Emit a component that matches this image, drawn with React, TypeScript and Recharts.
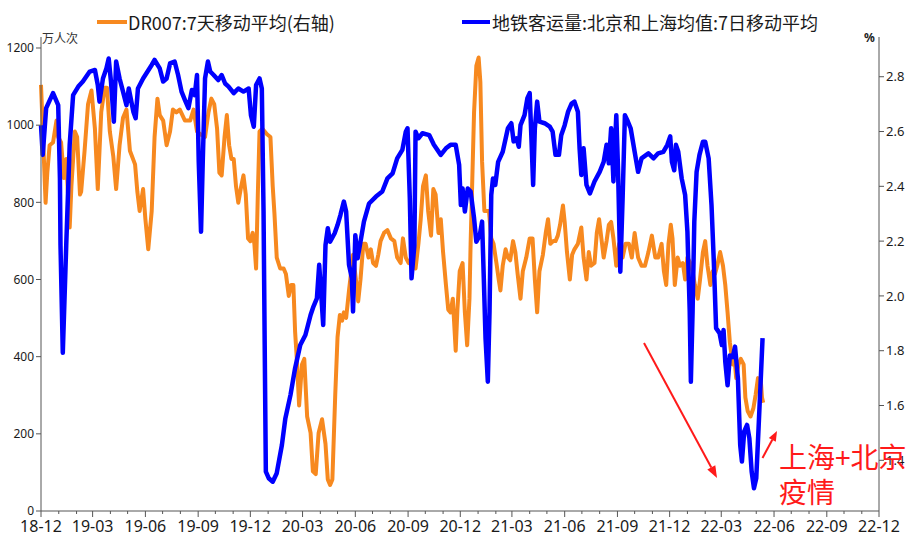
import React from 'react';
import { LineChart, Line, XAxis, YAxis } from 'recharts';

// days since 2018-12-01, value (万人次)
const subwaySeries: [number, number][] = [
[0,1000],[3,923],[9,1044],[21,1083],[30,1052],[33,862],[34,689],[38,410],[44,689],[50,949],[56,1078],[65,1100],[73,1113],[85,1139],[94,1143],[99,1104],[102,1061],[108,1121],[114,1147],[118,1173],[122,1113],[127,1009],[131,1165],[137,1121],[143,1087],[149,1052],[153,1095],[161,1035],[165,1018],[169,1095],[178,1121],[193,1156],[198,1169],[207,1147],[213,1113],[219,1121],[225,1160],[233,1165],[239,1130],[245,1087],[251,1065],[257,1044],[263,1091],[268,1078],[272,1130],[275,905],[279,724],[282,905],[286,1121],[291,1165],[295,1139],[301,1130],[309,1117],[315,1130],[321,1108],[327,1100],[336,1083],[344,1095],[353,1087],[362,1095],[366,1026],[371,996],[375,1104],[381,1121],[385,1095],[388,776],[390,430],[392,102],[397,85],[404,76],[411,98],[420,171],[426,240],[435,301],[443,370],[452,430],[461,456],[470,508],[475,530],[481,551],[485,638],[489,551],[492,482],[496,689],[500,733],[504,698],[512,720],[517,741],[522,767],[528,802],[532,776],[537,638],[542,603],[544,517],[548,715],[552,655],[556,689],[563,750],[572,797],[584,815],[595,828],[604,862],[613,875],[621,914],[630,936],[636,983],[639,992],[643,810],[646,603],[651,689],[653,983],[658,966],[665,979],[677,974],[685,949],[697,923],[706,940],[714,949],[723,949],[729,897],[732,793],[735,836],[739,776],[744,836],[749,828],[755,759],[759,698],[765,715],[769,750],[772,603],[775,448],[779,335],[782,517],[785,819],[788,862],[792,845],[797,905],[805,931],[814,992],[820,1005],[824,958],[829,966],[833,944],[836,1000],[843,1026],[848,1070],[852,1083],[855,966],[858,845],[861,992],[865,1061],[869,1009],[878,1005],[887,996],[892,983],[897,923],[903,923],[907,974],[913,1000],[919,1035],[925,1056],[930,1061],[936,1035],[939,940],[942,871],[946,940],[951,845],[957,823],[965,854],[974,879],[981,905],[986,949],[990,901],[994,992],[998,854],[1003,1026],[1006,888],[1010,620],[1014,810],[1018,1026],[1023,1010],[1028,992],[1035,931],[1041,879],[1047,914],[1059,927],[1068,914],[1076,927],[1085,931],[1092,949],[1097,971],[1100,905],[1104,883],[1107,949],[1111,931],[1117,862],[1123,819],[1127,724],[1131,517],[1133,335],[1136,517],[1139,750],[1143,879],[1148,923],[1154,957],[1158,957],[1164,914],[1169,793],[1173,647],[1177,474],[1183,461],[1187,430],[1190,469],[1193,387],[1197,326],[1201,403],[1206,399],[1210,426],[1215,344],[1219,171],[1222,128],[1226,206],[1231,223],[1235,188],[1239,102],[1243,59],[1247,85],[1251,214],[1255,347],[1258,448]
];

// days since 2018-12-01, value (%)
const dr007Series: [number, number][] = [
[0,2.77],[3,2.61],[8,2.34],[11,2.45],[15,2.55],[21,2.56],[27,2.64],[30,2.58],[35,2.56],[40,2.43],[44,2.50],[50,2.25],[53,2.40],[59,2.60],[63,2.58],[68,2.37],[70,2.38],[76,2.53],[82,2.70],[88,2.75],[94,2.61],[99,2.39],[105,2.67],[111,2.76],[115,2.76],[120,2.60],[126,2.51],[131,2.39],[137,2.55],[143,2.65],[149,2.68],[155,2.53],[164,2.48],[168,2.38],[172,2.31],[178,2.39],[182,2.28],[187,2.17],[193,2.31],[198,2.58],[203,2.72],[207,2.66],[213,2.64],[219,2.55],[225,2.60],[230,2.68],[236,2.67],[242,2.68],[251,2.64],[260,2.64],[266,2.68],[272,2.60],[278,2.59],[286,2.58],[292,2.67],[297,2.72],[302,2.70],[307,2.61],[311,2.45],[315,2.44],[320,2.58],[324,2.66],[328,2.55],[332,2.50],[336,2.50],[340,2.40],[344,2.34],[349,2.40],[353,2.44],[357,2.37],[361,2.21],[365,2.20],[369,2.23],[372,2.19],[375,2.10],[378,2.37],[381,2.60],[386,2.61],[394,2.59],[400,2.58],[404,2.40],[407,2.30],[411,2.14],[417,2.10],[423,2.10],[427,2.08],[432,2.00],[436,2.04],[440,2.04],[443,1.87],[446,1.77],[450,1.60],[455,1.75],[459,1.77],[464,1.56],[470,1.50],[474,1.36],[479,1.35],[484,1.50],[490,1.55],[496,1.46],[500,1.33],[504,1.31],[508,1.33],[513,1.64],[517,1.85],[521,1.93],[525,1.91],[528,1.94],[532,1.92],[537,2.02],[542,2.11],[544,2.15],[549,2.06],[553,1.98],[557,2.06],[562,2.19],[566,2.19],[571,2.14],[575,2.17],[579,2.12],[584,2.11],[588,2.15],[592,2.20],[598,2.23],[604,2.24],[610,2.21],[616,2.20],[621,2.14],[627,2.12],[631,2.21],[636,2.14],[641,2.12],[648,2.14],[653,2.10],[658,2.19],[662,2.28],[666,2.40],[671,2.44],[675,2.31],[680,2.22],[684,2.39],[688,2.37],[693,2.23],[697,2.28],[701,2.16],[706,2.04],[710,1.95],[714,1.94],[718,1.99],[723,1.80],[726,1.95],[730,2.09],[735,2.12],[739,1.94],[743,1.82],[747,1.99],[749,2.19],[752,2.43],[755,2.67],[759,2.84],[763,2.87],[766,2.78],[769,2.49],[773,2.31],[777,2.31],[781,2.31],[785,2.21],[789,2.19],[794,2.12],[798,2.06],[801,2.02],[805,2.11],[810,2.17],[814,2.14],[818,2.13],[823,2.20],[827,2.16],[831,2.08],[836,1.99],[840,2.09],[846,2.14],[852,2.21],[857,2.21],[861,2.06],[865,1.94],[869,2.09],[875,2.15],[880,2.23],[884,2.28],[888,2.19],[893,2.20],[897,2.20],[901,2.22],[905,2.26],[910,2.33],[913,2.27],[917,2.16],[922,2.06],[926,2.15],[930,2.17],[936,2.19],[942,2.25],[946,2.14],[951,2.06],[955,2.16],[959,2.11],[965,2.12],[969,2.23],[973,2.28],[977,2.21],[981,2.14],[986,2.20],[990,2.26],[994,2.27],[998,2.21],[1003,2.11],[1008,2.19],[1014,2.14],[1019,2.19],[1025,2.19],[1030,2.14],[1035,2.23],[1041,2.14],[1047,2.11],[1053,2.11],[1059,2.16],[1065,2.22],[1071,2.14],[1076,2.14],[1082,2.19],[1086,2.09],[1090,2.04],[1094,2.19],[1098,2.26],[1101,2.21],[1105,2.04],[1110,2.14],[1114,2.11],[1119,2.12],[1123,2.06],[1127,2.14],[1132,2.12],[1136,2.09],[1140,2.04],[1145,1.99],[1149,2.06],[1154,2.16],[1158,2.20],[1162,2.11],[1167,2.04],[1171,2.09],[1175,2.08],[1179,2.11],[1184,2.16],[1189,2.11],[1193,2.04],[1197,1.94],[1201,1.83],[1206,1.75],[1208,1.80],[1212,1.70],[1216,1.75],[1220,1.77],[1225,1.75],[1228,1.63],[1232,1.58],[1237,1.56],[1242,1.59],[1246,1.64],[1250,1.70],[1255,1.69],[1257,1.63],[1259,1.61]
];

const quarterLabels = ['18-12','19-03','19-06','19-09','19-12','20-03','20-06','20-09','20-12','21-03','21-06','21-09','21-12','22-03','22-06','22-09','22-12'];
const leftTicks = [0, 200, 400, 600, 800, 1000, 1200];
const rightTicks = [1.4, 1.6, 1.8, 2.0, 2.2, 2.4, 2.6, 2.8];
const drName = 'DR007:7天移动平均(右轴)';
const subwayName = '地铁客运量:北京和上海均值:7日移动平均';
const leftUnit = '万人次';
const rightUnit = '%';
const noteLine1 = '上海+北京';
const noteLine2 = '疫情';

const START = Date.UTC(2018, 11, 1);
const DAY = 86400000;
const monthTicks = Array.from({ length: 49 }, (_, k) => Math.round((Date.UTC(2018, 11 + k, 1) - START) / DAY));
const END_DAY = monthTicks[monthTicks.length - 1];

const subwayData = subwaySeries.map(([day, v]) => ({ day, v }));
const drData = dr007Series.map(([day, v]) => ({ day, v }));

const AXIS = '#555';
const ORANGE = '#f7891f';
const BLUE = '#0000ff';
const TXT = '#1a1a1a';
const RED = '#ff1a1a';
const FONT = '"Noto Sans", "Noto Sans CJK SC", sans-serif';
const CJK = '"Noto Sans CJK SC", "Noto Sans", sans-serif';

const XTick = (props: any) => {
  const { x, y, payload } = props;
  const k = monthTicks.indexOf(payload.value);
  const major = k % 3 === 0;
  return (
    <g>
      <line x1={x} x2={x} y1={y} y2={y + (major ? 6 : 3)} stroke={AXIS} strokeWidth={1} />
      {major && (
        <text x={x} y={y + 21} textAnchor="middle" fontSize={16} fill={TXT} fontFamily={FONT}>
          {quarterLabels[k / 3]}
        </text>
      )}
    </g>
  );
};

export default function App() {
  return (
    <div style={{ position: 'absolute', left: 0, top: 0, width: 917, height: 541, background: '#fff', fontFamily: CJK }}>
      <LineChart width={917} height={541} margin={{ top: 37, right: 0, bottom: 0, left: 0 }}>
        <XAxis
          dataKey="day"
          type="number"
          domain={[0, END_DAY]}
          ticks={monthTicks}
          interval={0}
          tickSize={0}
          tickMargin={0}
          tickLine={false}
          tick={<XTick />}
          height={30}
          stroke={AXIS}
          allowDuplicatedCategory={false}
        />
        <YAxis
          yAxisId="left"
          orientation="left"
          domain={[0, 1228.5]}
          ticks={leftTicks}
          interval={0}
          width={41}
          tickSize={5}
          stroke={AXIS}
          tick={{ fontSize: 12, fill: TXT, fontFamily: FONT }}
          allowDataOverflow
        />
        <YAxis
          yAxisId="right"
          orientation="right"
          domain={[1.215, 2.945]}
          ticks={rightTicks}
          interval={0}
          width={38}
          tickSize={5}
          stroke={AXIS}
          tickFormatter={(v: number) => v.toFixed(1)}
          tick={{ fontSize: 13, fill: TXT, fontFamily: FONT }}
          allowDataOverflow
        />
        <Line
          yAxisId="right"
          data={drData}
          dataKey="v"
          name={drName}
          type="linear"
          stroke={ORANGE}
          strokeWidth={4}
          strokeLinejoin="round"
          dot={false}
          isAnimationActive={false}
        />
        <Line
          yAxisId="left"
          data={subwayData}
          dataKey="v"
          name={subwayName}
          type="linear"
          stroke={BLUE}
          strokeWidth={4.5}
          strokeLinejoin="round"
          dot={false}
          isAnimationActive={false}
        />
      </LineChart>

      {/* legend */}
      <div style={{ position: 'absolute', left: 97, top: 10, height: 24, display: 'flex', alignItems: 'center' }}>
        <div style={{ width: 30, height: 4, background: ORANGE }} />
        <span style={{ fontSize: 18, lineHeight: '24px', color: TXT, marginLeft: 1, whiteSpace: 'nowrap' }}>{drName}</span>
      </div>
      <div style={{ position: 'absolute', left: 462, top: 10, height: 24, display: 'flex', alignItems: 'center' }}>
        <div style={{ width: 28, height: 4, background: BLUE }} />
        <span style={{ fontSize: 18, lineHeight: '24px', color: TXT, marginLeft: 2, whiteSpace: 'nowrap' }}>{subwayName}</span>
      </div>

      {/* axis units */}
      <div style={{ position: 'absolute', left: 42, top: 30, fontSize: 12, lineHeight: '16px', color: '#333' }}>{leftUnit}</div>
      <div style={{ position: 'absolute', left: 864, top: 30, fontSize: 12, lineHeight: '16px', color: '#222', fontWeight: 700, fontFamily: FONT }}>{rightUnit}</div>

      {/* annotation */}
      <svg width={917} height={541} style={{ position: 'absolute', left: 0, top: 0, pointerEvents: 'none' }}>
        <line x1={644} y1={343} x2={711.3} y2={467.4} stroke={RED} strokeWidth={2} />
        <polygon points="717,478 707.3,469.5 715.3,465.3" fill={RED} />
        <line x1={762.5} y1={458} x2={772.3} y2={439.8} stroke={RED} strokeWidth={2} />
        <polygon points="777,431 775.8,441.7 768.8,437.9" fill={RED} />
      </svg>
      <div style={{ position: 'absolute', left: 779, top: 439, fontSize: 28, lineHeight: '35px', color: RED, whiteSpace: 'nowrap' }}>
        {noteLine1}
        <br />
        {noteLine2}
      </div>
    </div>
  );
}
